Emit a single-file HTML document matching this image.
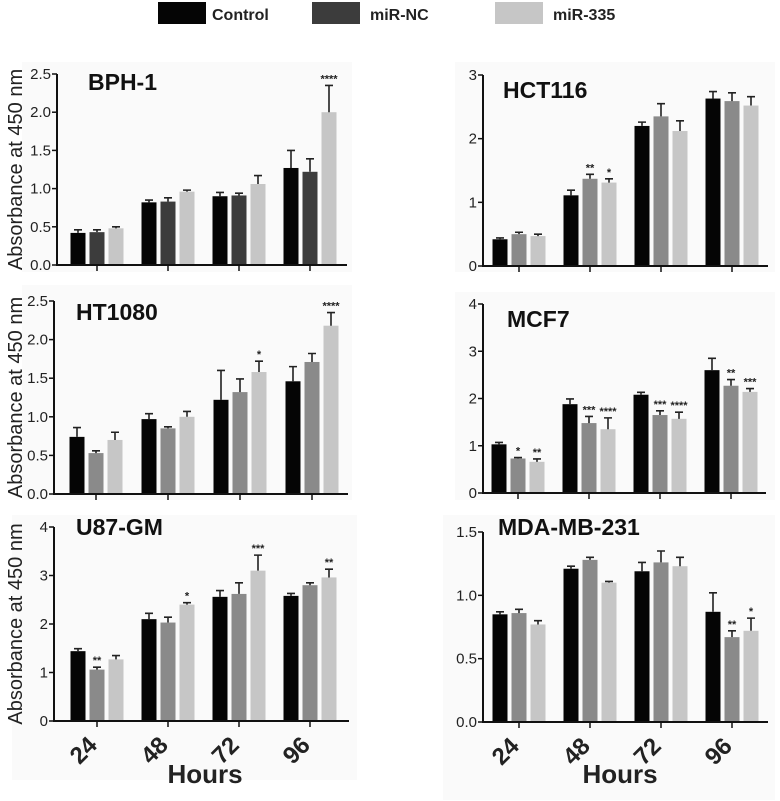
<!DOCTYPE html>
<html><head><meta charset="utf-8"><style>
html,body{margin:0;padding:0;background:#fff;}
svg{display:block;font-family:"Liberation Sans",sans-serif;}
</style></head><body>
<svg id="fig" width="780" height="801" viewBox="0 0 780 801" xmlns="http://www.w3.org/2000/svg">
<g>
<rect x="158" y="2" width="48" height="22" fill="#050505"/>
<text x="212" y="20" font-size="16" font-weight="bold" fill="#222">Control</text>
<rect x="312" y="2" width="48" height="22" fill="#3c3c3c"/>
<text x="370" y="20" font-size="16" font-weight="bold" fill="#222">miR-NC</text>
<rect x="495" y="2" width="48" height="22" fill="#c6c6c6"/>
<text x="553" y="20" font-size="16" font-weight="bold" fill="#222">miR-335</text>
</g>
</svg>
<script>
const categories = ["24","48","72","96"];
const seriesNames = ["Control","miR-NC","miR-335"];
// BPH-1
const bphMeans = [[0.42,0.82,0.90,1.27],[0.43,0.83,0.91,1.22],[0.48,0.96,1.06,2.00]];
const bphErr = [[0.04,0.03,0.05,0.23],[0.03,0.05,0.03,0.17],[0.02,0.02,0.11,0.35]];
const bphSig = [["","","",""],["","","",""],["","","","****"]];
const bphTicks = ["0.0","0.5","1.0","1.5","2.0","2.5"];
// HCT116
const hctMeans = [[0.42,1.11,2.20,2.63],[0.50,1.37,2.35,2.59],[0.47,1.31,2.12,2.52]];
const hctErr = [[0.02,0.08,0.06,0.11],[0.03,0.07,0.20,0.13],[0.03,0.06,0.16,0.14]];
const hctSig = [["","","",""],["","**","",""],["","*","",""]];
const hctTicks = ["0","1","2","3"];
// HT1080
const htMeans = [[0.74,0.97,1.22,1.46],[0.53,0.85,1.32,1.71],[0.70,1.00,1.58,2.18]];
const htErr = [[0.12,0.07,0.38,0.19],[0.03,0.02,0.17,0.11],[0.10,0.07,0.14,0.17]];
const htSig = [["","","",""],["","","",""],["","","*","****"]];
const htTicks = ["0.0","0.5","1.0","1.5","2.0","2.5"];
// MCF7
const mcfMeans = [[1.03,1.88,2.08,2.60],[0.73,1.48,1.65,2.27],[0.66,1.35,1.57,2.14]];
const mcfErr = [[0.04,0.11,0.05,0.25],[0.02,0.14,0.09,0.13],[0.06,0.24,0.14,0.07]];
const mcfSig = [["","","",""],["*","***","***","**"],["**","****","****","***"]];
const mcfTicks = ["0","1","2","3","4"];
// U87-GM
const u87Means = [[1.44,2.10,2.56,2.58],[1.06,2.03,2.62,2.80],[1.27,2.40,3.10,2.96]];
const u87Err = [[0.05,0.12,0.13,0.05],[0.05,0.11,0.23,0.05],[0.08,0.04,0.32,0.17]];
const u87Sig = [["","","",""],["**","","",""],["","*","***","**"]];
const u87Ticks = ["0","1","2","3","4"];
// MDA-MB-231
const mdaMeans = [[0.85,1.21,1.19,0.87],[0.86,1.28,1.26,0.67],[0.77,1.10,1.23,0.72]];
const mdaErr = [[0.02,0.02,0.07,0.15],[0.03,0.02,0.09,0.05],[0.03,0.01,0.07,0.10]];
const mdaSig = [["","","",""],["","","","**"],["","","","*"]];
const mdaTicks = ["0.0","0.5","1.0","1.5"];

const NS="http://www.w3.org/2000/svg";
const svg=document.getElementById('fig');
function mk(tag,attrs,parent){const e=document.createElementNS(NS,tag);for(const k in attrs)e.setAttribute(k,attrs[k]);(parent||svg).appendChild(e);return e;}

function panel(o){
  const g=mk('g',{});
  
  
  const bg=mk('rect',{x:o.bg[0],y:o.bg[1],width:o.bg[2],height:o.bg[3],fill:'#fafafa'},g);
  
  
  const ymax=parseFloat(o.ticks[o.ticks.length-1]);
  const yS=v=>o.y0-(v/ymax)*(o.y0-o.yTop);
  const xS=i=>o.x0+o.first+i*o.step;
  const cols=['#050505',o.ncDark?'#3c3c3c':'#8a8a8a','#c6c6c6'];
  for(let s=0;s<3;s++){
    for(let i=0;i<categories.length;i++){
      const v=o.means[s][i], e=o.err[s][i];
      const cx=xS(i)+(s-1)*19;
      const top=yS(v);
      const r=mk('rect',{x:cx-7.5,y:top,width:15,height:o.y0-top,fill:cols[s]},g);
      
      
      const et=yS(v+e);
      const eb=mk('path',{d:`M${cx},${top}V${et}M${cx-4},${et}H${cx+4}`,stroke:'#222','stroke-width':1.6,fill:'none'},g);
      
      
      const sg=o.sig[s][i];
      if(sg){
        const t=mk('text',{x:cx,y:et-3,'font-size':11,'font-weight':'bold','text-anchor':'middle',fill:'#222'},g);
        t.textContent=sg;
        
        
      }
    }
  }
  const ax=mk('path',{d:`M${o.x0},${o.yTop}V${o.y0}H${o.xEnd}`,stroke:'#111','stroke-width':2,fill:'none'},g);
  
  
  o.ticks.forEach(tl=>{
    const y=yS(parseFloat(tl));
    mk('path',{d:`M${o.x0-5},${y}H${o.x0}`,stroke:'#111','stroke-width':1.5},g);
    const t=mk('text',{x:o.x0-6,y:y+5,'font-size':15,'text-anchor':'end',fill:'#222'},g);
    t.textContent=tl;
    
    
  });
  categories.forEach((c,i)=>{
    const x=xS(i);
    mk('path',{d:`M${x},${o.y0}V${o.y0+6}`,stroke:'#111','stroke-width':1.5},g);
    if(o.xlabels){
      const t=mk('text',{x:0,y:0,'font-size':24,'font-weight':'bold','text-anchor':'middle',fill:'#222',transform:`translate(${x-8},${o.y0+35}) rotate(-45)`},g);
      t.textContent=c;
      
      
    }
  });
  const ti=mk('text',{x:o.titleX,y:o.titleY,'font-size':23,'font-weight':'bold',fill:'#111'},g);
  ti.textContent=o.title;
  
  
  if(o.xlabels){
    const h=mk('text',{x:o.hoursX,y:783,'font-size':26,'font-weight':'bold','text-anchor':'middle',fill:'#222'},g);
    h.textContent='Hours';
    
    
  }
  if(o.ytitle){
    const yt=mk('text',{x:0,y:0,'font-size':20,'text-anchor':'middle',fill:'#222',transform:`translate(22,${(o.y0+o.yTop)/2}) rotate(-90)`},g);
    yt.textContent='Absorbance at 450 nm';
    
    
  }
}
panel({key:'bph-1',title:'BPH-1',means:bphMeans,err:bphErr,sig:bphSig,ticks:bphTicks,x0:57,y0:265,yTop:74,xEnd:347,first:40,step:71,titleX:88,titleY:90,ncDark:true,ytitle:true,bg:[22,62,330,210]});
panel({key:'hct116',title:'HCT116',means:hctMeans,err:hctErr,sig:hctSig,ticks:hctTicks,x0:483,y0:266,yTop:75,xEnd:768,first:36,step:71,titleX:503,titleY:98,bg:[455,62,320,210]});
panel({key:'ht1080',title:'HT1080',means:htMeans,err:htErr,sig:htSig,ticks:htTicks,x0:54,y0:494,yTop:301,xEnd:348,first:42,step:72,titleX:76,titleY:320,ytitle:true,bg:[22,285,330,215]});
panel({key:'mcf7',title:'MCF7',means:mcfMeans,err:mcfErr,sig:mcfSig,ticks:mcfTicks,x0:483,y0:493,yTop:304,xEnd:766,first:35,step:71,titleX:507,titleY:327,bg:[455,292,320,208]});
panel({key:'u87-gm',title:'U87-GM',means:u87Means,err:u87Err,sig:u87Sig,ticks:u87Ticks,x0:54,y0:721,yTop:527,xEnd:349,first:43,step:71,titleX:76,titleY:535,xlabels:true,ytitle:true,hoursX:205,bg:[12,515,345,265]});
panel({key:'mda-mb-231',title:'MDA-MB-231',means:mdaMeans,err:mdaErr,sig:mdaSig,ticks:mdaTicks,x0:483,y0:722,yTop:532,xEnd:768,first:36,step:71,titleX:498,titleY:535,xlabels:true,hoursX:620,bg:[443,515,332,285]});
</script>
</body></html>
